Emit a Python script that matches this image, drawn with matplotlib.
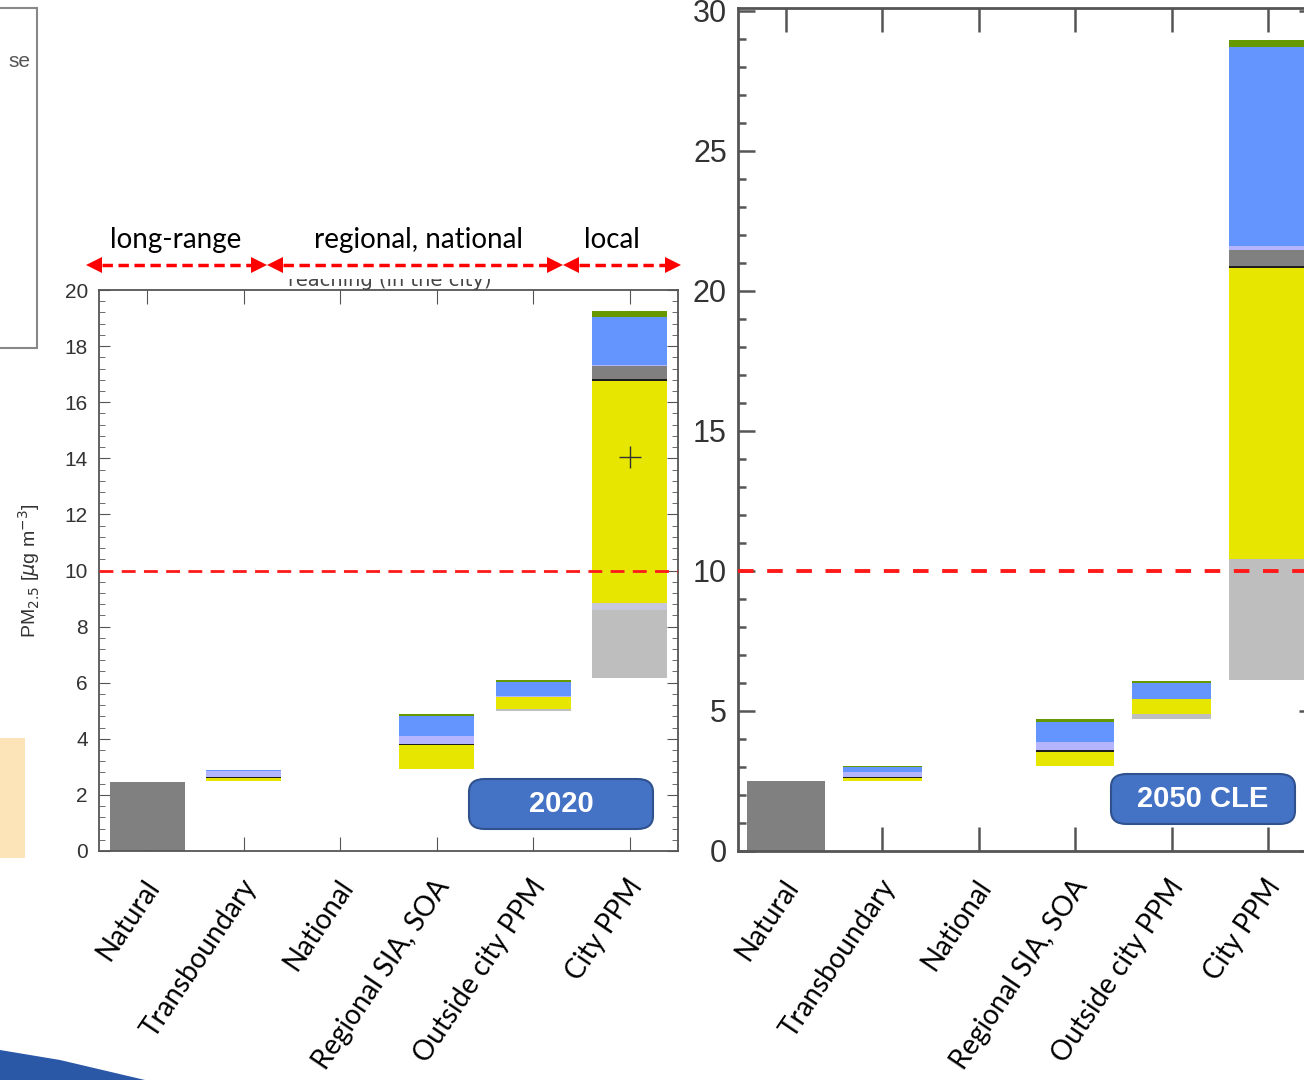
import matplotlib
matplotlib.use("Agg")
import matplotlib.pyplot as plt
import matplotlib.transforms as mtransforms
from matplotlib.patches import Rectangle, Polygon, FancyBboxPatch
from matplotlib.ticker import MultipleLocator
from matplotlib.lines import Line2D

W, H = 1304, 1080

categories = ['Natural', 'Transboundary', 'National', 'Regional SIA, SOA',
              'Outside city PPM', 'City PPM']
region_labels = ['long-range', 'regional, national', 'local']

# stacked segments, bottom to top (ug/m3)
# --- 2020 ---
base_2020      = [0.00, 2.50, 0, 2.92, 4.98, 6.17]
natural_2020   = [2.45, 0.00, 0, 0.00, 0.00, 0.00]
lightgrey_2020 = [0.00, 0.00, 0, 0.00, 0.10, 2.43]
pale_2020      = [0.00, 0.00, 0, 0.00, 0.00, 0.24]
yellow_2020    = [0.00, 0.10, 0, 0.85, 0.42, 7.91]
black_2020     = [0.00, 0.04, 0, 0.06, 0.00, 0.08]
darkgrey_2020  = [0.00, 0.00, 0, 0.00, 0.00, 0.45]
lavender_2020  = [0.00, 0.21, 0, 0.26, 0.02, 0.06]
blue_2020      = [0.00, 0.03, 0, 0.72, 0.50, 1.71]
green_2020     = [0.00, 0.01, 0, 0.08, 0.07, 0.21]
marker_2020 = (5, 14.05)

# --- 2050 CLE ---
base_2050      = [0.00, 2.50, 0, 3.03, 4.71, 6.12]
natural_2050   = [2.50, 0.00, 0, 0.00, 0.00, 0.00]
lightgrey_2050 = [0.00, 0.00, 0, 0.02, 0.18, 4.30]
pale_2050      = [0.00, 0.00, 0, 0.00, 0.00, 0.00]
yellow_2050    = [0.00, 0.10, 0, 0.47, 0.54, 10.38]
black_2050     = [0.00, 0.04, 0, 0.07, 0.00, 0.10]
darkgrey_2050  = [0.00, 0.00, 0, 0.00, 0.00, 0.55]
lavender_2050  = [0.00, 0.18, 0, 0.30, 0.00, 0.15]
blue_2050      = [0.00, 0.18, 0, 0.73, 0.57, 7.10]
green_2050     = [0.00, 0.04, 0, 0.10, 0.07, 0.26]

who_limit = 10

colors = {'natural': '#808080', 'lightgrey': '#bebebe', 'pale': '#c8c8dc',
          'yellow': '#e6e600', 'black': '#1e1e1e', 'darkgrey': '#808080',
          'lavender': '#b4b4ff', 'blue': '#6495ff', 'green': '#669900'}


def px(x, y):
    return x / W, 1 - y / H


def stack(ax, base, layers, width):
    bottom = list(base)
    for name, vals in layers:
        ax.bar(range(len(categories)), vals, width, bottom=bottom,
               color=colors[name], edgecolor='none', zorder=2)
        bottom = [b + v for b, v in zip(bottom, vals)]


def cat_labels(ax, size):
    ax.set_xticks(range(len(categories)))
    ax.set_xticklabels(categories, rotation=56, ha='right', va='center',
                       rotation_mode='anchor', fontsize=size,
                       family=['Lato', 'DejaVu Sans'])
    shift = mtransforms.ScaledTranslation(7 / 100, 0, fig.dpi_scale_trans)
    for lab in ax.get_xticklabels():
        lab.set_transform(lab.get_transform() + shift)


fig = plt.figure(figsize=(W / 100, H / 100), dpi=100)

# ---------------- left panel (2020) ----------------
x0, y0 = px(99, 851)
ax1 = fig.add_axes([x0, y0, 579 / W, 561 / H])
stack(ax1, base_2020, [('natural', natural_2020), ('lightgrey', lightgrey_2020),
                       ('pale', pale_2020), ('yellow', yellow_2020),
                       ('black', black_2020), ('darkgrey', darkgrey_2020),
                       ('lavender', lavender_2020), ('blue', blue_2020),
                       ('green', green_2020)], 0.78)
ax1.plot(*marker_2020, marker='+', ms=16, mew=1, color='#333333', zorder=3)
ax1.axhline(who_limit, color='#ff1a1a', lw=2, dashes=(5, 3), zorder=3)
ax1.set_xlim(-0.5, 5.5)
ax1.set_ylim(0, 20)
ax1.yaxis.set_major_locator(MultipleLocator(2))
ax1.yaxis.set_minor_locator(MultipleLocator(0.4))
ax1.tick_params(axis='y', which='both', direction='in', left=True, right=True,
                labelsize=15, labelcolor='#333333', color='#555555')
ax1.tick_params(axis='y', which='major', length=8, pad=8)
ax1.tick_params(axis='y', which='minor', length=4)
ax1.tick_params(axis='x', direction='in', top=True, bottom=True, length=10,
                color='#555555', pad=22)
for lab in ax1.get_yticklabels():
    lab.set_family(['Liberation Sans', 'DejaVu Sans'])
cat_labels(ax1, 20)
for s in ax1.spines.values():
    s.set_color('#555555')
    s.set_linewidth(1.3)
ax1.set_ylabel(r'PM$_{2.5}$ [$\mu$g m$^{-3}$]', fontsize=14, color='#333333',
               family=['Liberation Sans', 'DejaVu Sans'], labelpad=16)

# ---------------- right panel (2050 CLE) ----------------
x0, y0 = px(738, 851)
ax2 = fig.add_axes([x0, y0, 578 / W, 843 / H])
stack(ax2, base_2050, [('natural', natural_2050), ('lightgrey', lightgrey_2050),
                       ('pale', pale_2050), ('yellow', yellow_2050),
                       ('black', black_2050), ('darkgrey', darkgrey_2050),
                       ('lavender', lavender_2050), ('blue', blue_2050),
                       ('green', green_2050)], 0.81)
ax2.axhline(who_limit, color='#ff1a1a', lw=2.8, dashes=(4, 3.5), zorder=3)
ax2.set_xlim(-0.5, 5.5)
ax2.set_ylim(0, 30.1)
ax2.set_yticks([0, 5, 10, 15, 20, 25, 30])
ax2.yaxis.set_minor_locator(MultipleLocator(1))
ax2.tick_params(axis='y', which='both', direction='in', left=True, right=True,
                labelsize=22, labelcolor='#333333', color='#555555', width=1.8)
ax2.tick_params(axis='y', which='major', length=12, pad=8)
ax2.tick_params(axis='y', which='minor', length=6)
ax2.tick_params(axis='x', direction='in', top=True, bottom=True, length=17,
                color='#555555', width=1.8, pad=22)
for lab in ax2.get_yticklabels():
    lab.set_family(['Liberation Sans Narrow', 'Liberation Sans', 'DejaVu Sans'])
    lab.set_fontstretch('condensed')
cat_labels(ax2, 20)
for s in ax2.spines.values():
    s.set_color('#555555')
    s.set_linewidth(2)

# ---------------- slide decorations ----------------
# half-hidden title of the left plot
fig.text(*px(390, 281), 'reaching (in the city)', ha='center', va='center',
         fontsize=14, color='#444444', zorder=1)
fig.patches.append(Rectangle(px(90, 279), 600 / W, 30 / H, transform=fig.transFigure,
                             facecolor='white', edgecolor='none', zorder=2))

# range arrows
ay = 265
for xa, xb in [(86, 267), (267, 563), (563, 681)]:
    hl, hw = 16, 8
    fig.add_artist(Line2D([(xa + hl) / W, (xb - hl) / W], [1 - ay / H] * 2,
                          color='#ff0000', lw=2.5, dashes=(3, 1.6), zorder=3))
    fig.patches.append(Polygon([px(xa, ay), px(xa + hl, ay - hw), px(xa + hl, ay + hw)],
                               closed=True, transform=fig.transFigure,
                               facecolor='#ff0000', edgecolor='none', zorder=3))
    fig.patches.append(Polygon([px(xb, ay), px(xb - hl, ay - hw), px(xb - hl, ay + hw)],
                               closed=True, transform=fig.transFigure,
                               facecolor='#ff0000', edgecolor='none', zorder=3))
for lab, xc in zip(region_labels, [176, 419, 612]):
    fig.text(*px(xc, 240), lab, ha='center', va='center', fontsize=20,
             family=['Lato', 'DejaVu Sans'], zorder=4)

# year boxes
for txt, bx, by in [('2020', 469, 829), ('2050 CLE', 1111, 824)]:
    fig.patches.append(FancyBboxPatch(px(bx, by), 184 / W, 50 / H,
                                      boxstyle='round,pad=0,rounding_size=0.012',
                                      transform=fig.transFigure, facecolor='#4472c4',
                                      edgecolor='#2f528f', lw=1.5, zorder=5))
    fig.text(*px(bx + 92, by - 25), txt, ha='center', va='center', fontsize=21,
             fontweight='bold', color='white', family=['Liberation Sans', 'DejaVu Sans'],
             zorder=6)

# neighbouring slide elements cut off at the left edge
fig.patches.append(Rectangle(px(-10, 348), 47 / W, 340 / H, transform=fig.transFigure,
                             facecolor='white', edgecolor='#888888', lw=1.5, zorder=1))
fig.text(*px(30, 62), 'se', ha='right', va='center', fontsize=15, color='#555555',
         family=['Liberation Sans', 'DejaVu Sans'], zorder=2)
fig.patches.append(Rectangle(px(0, 858), 25 / W, 120 / H, transform=fig.transFigure,
                             facecolor='#fde4b8', edgecolor='none', zorder=1))
fig.patches.append(Polygon([px(0, 1050), px(60, 1060), px(145, 1080), px(0, 1080)],
                           closed=True, transform=fig.transFigure,
                           facecolor='#2b57a7', edgecolor='none', zorder=1))

fig.savefig('out.png', dpi=100)
